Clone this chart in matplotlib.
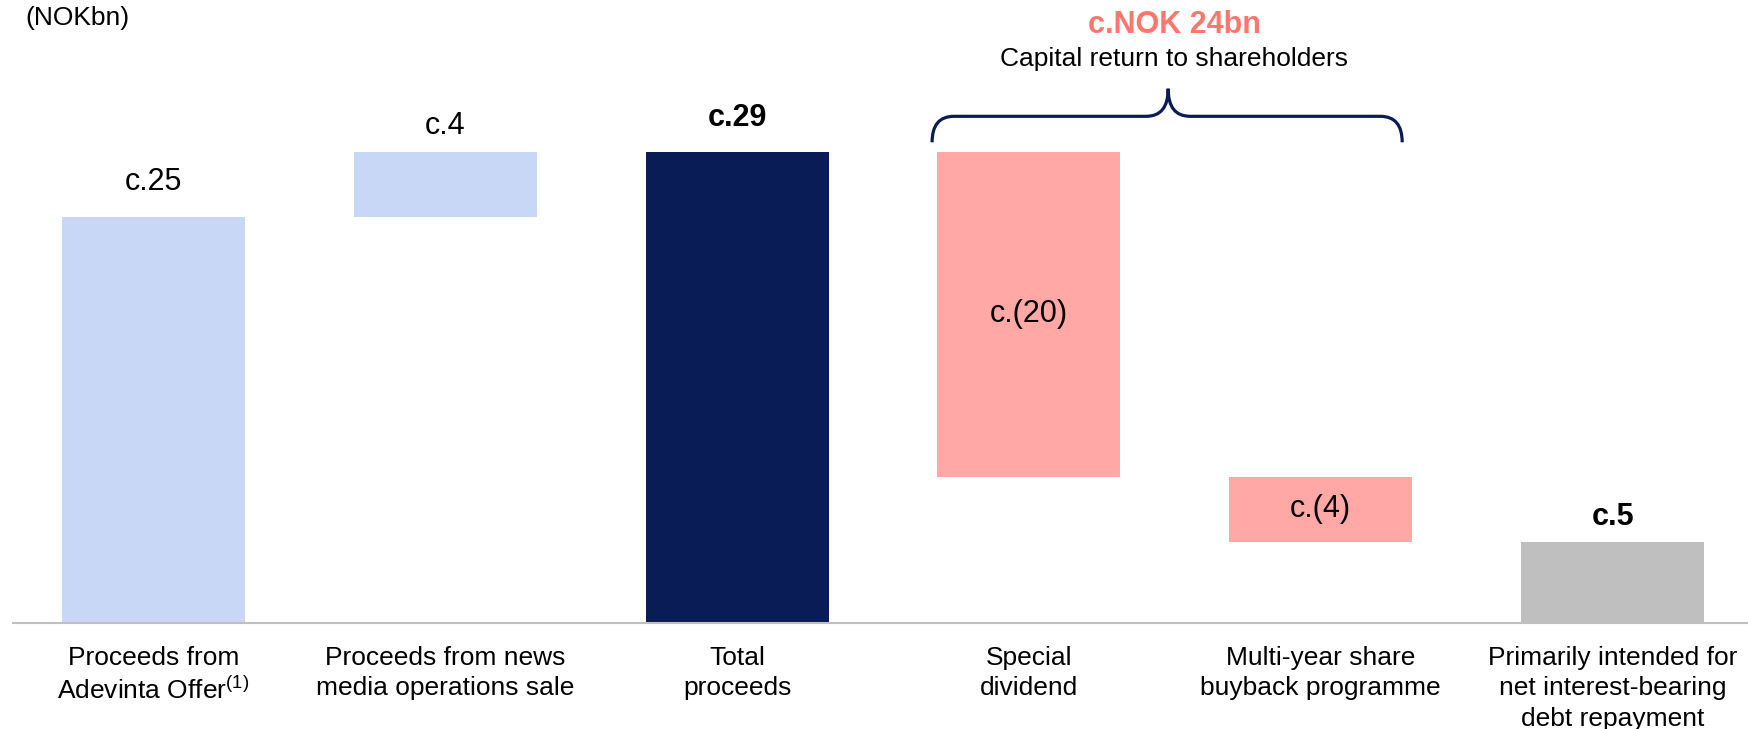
import matplotlib.pyplot as plt
from matplotlib.path import Path
from matplotlib.patches import PathPatch

plt.rcParams['font.family'] = ['Liberation Sans', 'DejaVu Sans']
plt.rcParams['mathtext.fontset'] = 'custom'
plt.rcParams['mathtext.rm'] = 'Liberation Sans'
plt.rcParams['mathtext.it'] = 'Liberation Sans'

# Waterfall data (NOKbn)
categories = ['Proceeds from\nAdevinta Offer$^{\\mathrm{(1)}}$',
              'Proceeds from news\nmedia operations sale',
              'Total\nproceeds',
              'Special\ndividend',
              'Multi-year share\nbuyback programme',
              'Primarily intended for\nnet interest-bearing\ndebt repayment']
values = [25, 4, 29, -20, -4, 5]
kinds = ['step', 'step', 'total', 'step', 'step', 'total']
value_labels = ['c.25', 'c.4', 'c.29', 'c.(20)', 'c.(4)', 'c.5']
colors = ['#C9D7F7', '#C9D7F7', '#0A1C56', '#FFA8A6', '#FFA8A6', '#BFBFBF']
bold = [False, False, True, False, False, True]
label_gap = [35, 26, 34, 0, 0, 25]   # px above bar top

# bottoms of the floating bars
bottoms, heights = [], []
run = 0
for v, k in zip(values, kinds):
    if k == 'total':
        bottoms.append(0)
        heights.append(v)
        run = v
    else:
        if v >= 0:
            bottoms.append(run)
        else:
            bottoms.append(run + v)
        heights.append(abs(v))
        run += v

W, H = 1748, 729
fig = plt.figure(figsize=(W / 100, H / 100), dpi=100)
ppu = 16.24  # px per unit
ax = fig.add_axes([13 / W, 106 / H, 1 - 13 / W, 623 / H])
ax.set_xlim(-0.4815, 5.464)
ax.set_ylim(0, 623 / ppu)

x = list(range(len(values)))
ax.bar(x, heights, bottom=bottoms, width=0.627, color=colors, zorder=2)

for s in ['top', 'right', 'left']:
    ax.spines[s].set_visible(False)
ax.spines['bottom'].set_color('#BFBFBF')
ax.spines['bottom'].set_linewidth(1.5)
ax.set_yticks([])
ax.set_xticks([])

pt = 0.72  # points per px
for i in x:
    lbl = value_labels[i]
    w = 'bold' if bold[i] else 'normal'
    if values[i] < 0:
        ax.text(i, bottoms[i] + heights[i] / 2, lbl, ha='center', va='center',
                fontsize=22, fontweight=w, color='black')
    else:
        ax.annotate(lbl, xy=(i, bottoms[i] + heights[i]),
                    xytext=(0, label_gap[i] * pt), textcoords='offset points',
                    ha='center', va='center', fontsize=22, fontweight=w)
    ax.annotate(categories[i], xy=(i, 0), xytext=(0, -23 * pt),
                textcoords='offset points', ha='center', va='top',
                fontsize=19, linespacing=1.33, annotation_clip=False)

# brace over the capital return bars
xl, xm, xr = 2.668, 3.477, 4.279
y0, y1, y2 = 29.6, 31.2, 32.9
dx = 0.075
verts = [(xl, y0), (xl, y1), (xl + dx, y1),
         (xm - dx, y1), (xm, y1), (xm, y2),
         (xm, y1), (xm + dx, y1),
         (xr - dx, y1), (xr, y1), (xr, y0)]
codes = [Path.MOVETO, Path.CURVE3, Path.CURVE3,
         Path.LINETO, Path.CURVE3, Path.CURVE3,
         Path.CURVE3, Path.CURVE3,
         Path.LINETO, Path.CURVE3, Path.CURVE3]
ax.add_patch(PathPatch(Path(verts, codes), fill=False, edgecolor='#0A1C56',
                       linewidth=2.3, clip_on=False, capstyle='butt'))

ax.text(3.497, 36.8, 'c.NOK 24bn', ha='center', va='center', fontsize=22,
        fontweight='bold', color='#FF766C', clip_on=False)
ax.text(3.497, 34.7, 'Capital return to shareholders', ha='center',
        va='center', fontsize=19, clip_on=False)

fig.text(25 / W, 1 - 18 / H, '(NOKbn)', ha='left', va='center', fontsize=19)

fig.savefig('out.png', dpi=100)
